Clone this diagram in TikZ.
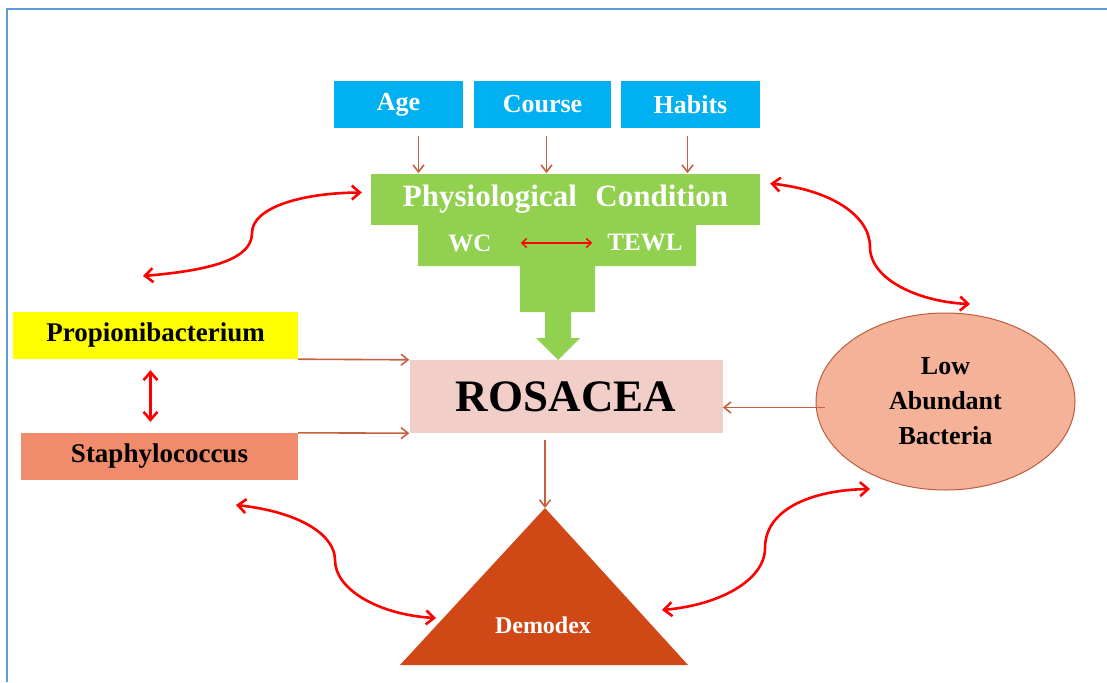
\documentclass[tikz,border=0pt]{standalone}
\usepackage{fontspec}
\setmainfont{Liberation Serif}
\usetikzlibrary{arrows.meta,shapes.geometric}

\definecolor{factorblue}{RGB}{0,176,240}
\definecolor{physgreen}{RGB}{146,208,80}
\definecolor{feedbrown}{RGB}{197,97,64}
\definecolor{rosapink}{RGB}{242,206,201}
\definecolor{propyellow}{RGB}{255,255,0}
\definecolor{staphsalmon}{RGB}{240,139,108}
\definecolor{labfill}{RGB}{244,178,152}
\definecolor{labdraw}{RGB}{190,92,60}
\definecolor{demored}{RGB}{207,72,22}
\definecolor{frameblue}{RGB}{91,155,213}

\begin{document}
\begin{tikzpicture}[
        x=1pt, y=-1pt,
        >={Straight Barb[length=7pt,width=11pt]},
        factor/.style={rectangle, fill=factorblue, minimum height=47pt, inner sep=0pt, text=white, font=\fontsize{26}{30}\selectfont\bfseries},
        bacteria/.style={rectangle, minimum height=47pt, inner sep=0pt, font=\fontsize{27}{30}\selectfont\bfseries},
        physlabel/.style={text=white, inner sep=0pt, font=\fontsize{25}{28}\selectfont\bfseries},
        feed/.style={->, draw=feedbrown, line width=1.6pt},
        link/.style={>={Straight Barb[length=8pt,width=14pt]}, <->, draw=red, line width=2.6pt}
        ]
        \useasboundingbox (0,0) rectangle (1107,682);
        \draw[frameblue, line width=2pt] (7,682) -- (7,9) -- (1107,9);

        % top factors
        \node[factor, minimum width=129pt] (age) at (398.5,104.5) {Age};
        \node[factor, minimum width=137pt] (course) at (542.5,104.5) {Course};
        \node[factor, minimum width=139pt] (habits) at (690.5,104.5) {Habits};

        % physiological condition
        \node[fill=physgreen, minimum width=389pt, minimum height=51pt, inner sep=0pt, text=white,
              font=\fontsize{31}{34}\selectfont\bfseries] (phys) at (565.5,199.5) {Physiological\hspace{0.6em}Condition};
        \fill[physgreen] (418,224) -- (696,224) -- (696,266) -- (595,266) -- (595,312) -- (571,312)
            -- (571,338) -- (580,338) -- (558,360) -- (536,338) -- (545,338) -- (545,312)
            -- (520,312) -- (520,266) -- (418,266) -- cycle;
        \node[physlabel] (wc) at (470,243) {WC};
        \node[physlabel] (tewl) at (645,243) {TEWL};
        \draw[>={Straight Barb[length=5pt,width=9pt]}, <->, red, line width=1.4pt, shorten <=29pt, shorten >=15pt] (wc.east) -- (tewl.west);

        \foreach \f/\dx in {age/20, course/4, habits/-3}
          \draw[feed] ([shift={(\dx,8)}]\f.south) -- ([shift={(\dx,45)}]\f.south);

        % centre
        \node[fill=rosapink, minimum width=313pt, minimum height=73pt, inner sep=0pt,
              font=\fontsize{45}{50}\selectfont\bfseries] (rosacea) at (566,396.5) {ROSACEA};

        % bacteria
        \node[bacteria, fill=propyellow, minimum width=285pt] (prop) at (155.5,335.5) {Propionibacterium};
        \node[bacteria, fill=staphsalmon, minimum width=277pt] (staph) at (159.5,456.5) {Staphylococcus};
        \node[ellipse, fill=labfill, draw=labdraw, line width=1pt, minimum width=259pt, minimum height=177pt,
              inner sep=0pt, align=center, font=\fontsize{26}{35}\selectfont\bfseries] (lab) at (945.5,401.5) {Low\\Abundant\\Bacteria};

        % demodex
        \coordinate (apex) at (545,508);
        \fill[demored] (apex) -- (688,665) -- (400,665) -- cycle;
        \node[text=white, font=\fontsize{24}{28}\selectfont\bfseries] (demodex) at (543,625) {Demodex};

        % brown arrows
        \draw[feed] (prop.south east) -- (rosacea.north west);
        \draw[feed] (staph.north east) -- (rosacea.south west);
        \coordinate (labout) at ([shift={(9,6)}]lab.west);
        \draw[feed] (labout) -- (labout -| rosacea.east);
        \coordinate (rosaout) at ([shift={(0,7)}]rosacea.south);
        \draw[feed] (rosaout -| apex) -- (apex);

        % red links
        \draw[link] ([shift={(-5,11)}]prop.south) -- ([shift={(-9,-11)}]staph.north);
        \coordinate (leftfree) at (143,276);
        \coordinate (rightfree) at (970,304);
        \coordinate (staphfree) at (236,505);
        \coordinate (labfree) at (870,489);
        \draw[link] (leftfree) .. controls (215,270) and (252,258) .. (252,233)
            .. controls (252,208) and (300,193) .. ([shift={(-9,-7)}]phys.west);
        \draw[link] ([shift={(10,-16)}]phys.east) .. controls (830,190) and (870,215) .. (870,247)
            .. controls (870,280) and (920,302) .. (rightfree);
        \draw[link] (staphfree) .. controls (300,512) and (335,535) .. (335,560)
            .. controls (335,590) and (380,615) .. (436,618);
        \draw[link] (662,610) .. controls (720,605) and (765,580) .. (765,548)
            .. controls (765,510) and (810,490) .. (labfree);
\end{tikzpicture}
\end{document}
